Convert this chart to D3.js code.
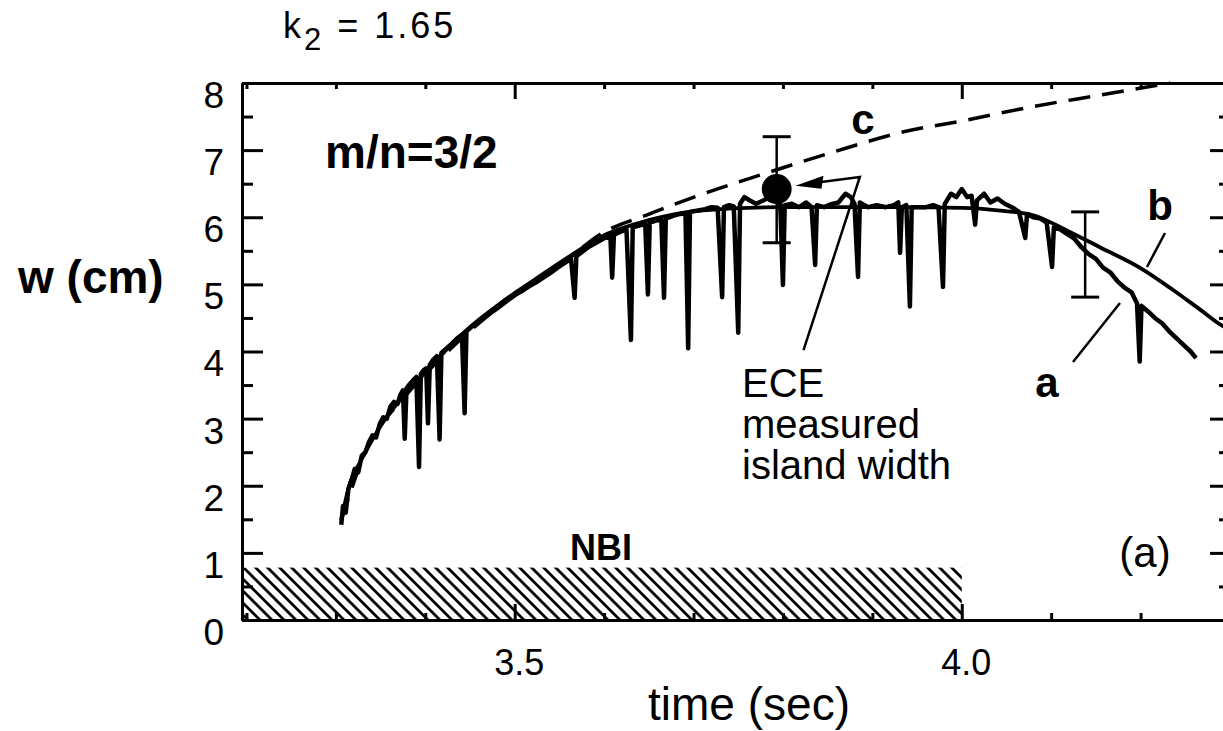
<!DOCTYPE html>
<html><head><meta charset="utf-8">
<script src="https://cdn.jsdelivr.net/npm/d3@7"></script>
<style>
html,body{margin:0;padding:0;background:#fff;}
svg{display:block;}
text{font-family:"Liberation Sans",Arial,Helvetica,sans-serif;fill:#000;}
</style></head>
<body>
<svg id="chart" width="1223" height="731"></svg>
<script>
// ---------------- data ----------------
const xDomain = [3.195, 4.3];
const yDomain = [0, 8];
const xMinorTicks = [3.2,3.3,3.4,3.6,3.7,3.8,3.9,4.1,4.2,4.3];
const xMajorTicks = [3.5, 4.0];
const xTickLabels = ["3.5", "4.0"];
const yMajorTicks = [0,1,2,3,4,5,6,7,8];
const yMinorTicks = [0.5,1.5,2.5,3.5,4.5,5.5,6.5,7.5];
const yTickLabels = ["0","1","2","3","4","5","6","7","8"];

// curve b: smooth model
const curveB = [[3.306,1.49],[3.316,2.05],[3.327,2.35],[3.338,2.62],[3.353,2.95],[3.372,3.28],[3.394,3.60],[3.416,3.92],[3.447,4.33],[3.484,4.72],[3.520,5.05],[3.565,5.45],[3.595,5.70],[3.651,5.96],[3.707,6.10],[3.797,6.15],[3.931,6.15],[4.000,6.14],[4.043,6.10],[4.080,6.03],[4.118,5.80],[4.155,5.55],[4.199,5.25],[4.236,4.92],[4.267,4.62],[4.292,4.38],[4.30,4.33]];

// curve c: dashed model
const curveC = [[3.306,1.49],[3.338,2.65],[3.372,3.25],[3.416,3.88],[3.484,4.68],[3.551,5.28],[3.595,5.74],[3.651,6.05],[3.707,6.33],[3.782,6.66],[3.856,6.97],[3.931,7.26],[4.006,7.45],[4.080,7.65],[4.155,7.82],[4.233,8.0]];

// curve a: ECE measured island width (noisy trace with drops)
const curveA = [[3.306,1.42],[3.308,1.70],[3.311,1.60],[3.314,1.95],[3.318,2.10],[3.321,2.25],[3.325,2.20],[3.329,2.45],[3.333,2.50],[3.337,2.65],[3.341,2.75],[3.345,2.72],[3.349,2.92],[3.353,3.02],[3.357,3.00],[3.361,3.18],[3.365,3.25],[3.369,3.22],[3.372,3.35],[3.375,3.42],
[3.377,2.70],[3.379,3.45],[3.383,3.52],[3.387,3.58],[3.390,3.62],
[3.393,2.28],[3.395,3.66],[3.398,3.72],[3.401,3.75],
[3.403,2.93],[3.405,3.80],[3.409,3.88],[3.413,3.93],
[3.416,2.69],[3.418,3.98],[3.424,4.05],[3.430,4.12],[3.436,4.20],[3.441,4.25],
[3.444,3.08],[3.446,4.30],[3.452,4.37],[3.460,4.45],[3.468,4.53],[3.476,4.60],[3.484,4.68],[3.492,4.76],[3.500,4.84],[3.508,4.90],[3.516,4.97],[3.524,5.03],[3.532,5.10],[3.540,5.17],[3.548,5.25],[3.556,5.32],[3.563,5.38],
[3.567,4.80],[3.569,5.42],[3.575,5.48],[3.583,5.56],[3.591,5.62],[3.599,5.68],[3.607,5.72],
[3.609,5.10],[3.611,5.74],[3.618,5.78],[3.625,5.82],
[3.630,4.17],[3.632,5.85],[3.640,5.88],[3.646,5.90],
[3.649,4.85],[3.651,5.92],[3.658,5.95],[3.664,5.96],
[3.667,4.80],[3.669,5.98],[3.677,6.02],[3.685,6.05],[3.691,6.06],
[3.694,4.05],[3.696,6.08],[3.705,6.10],[3.713,6.12],[3.720,6.15],[3.727,6.14],
[3.732,4.81],[3.734,6.15],[3.740,6.18],[3.745,6.16],
[3.750,4.28],[3.752,6.20],[3.757,6.30],[3.763,6.25],[3.770,6.20],[3.778,6.25],[3.785,6.30],[3.792,6.25],[3.797,6.20],
[3.800,4.99],[3.802,6.18],[3.810,6.20],[3.818,6.15],[3.826,6.22],[3.832,6.15],
[3.836,5.29],[3.838,6.18],[3.846,6.15],[3.855,6.20],[3.862,6.22],[3.870,6.35],[3.876,6.30],[3.880,6.20],
[3.884,5.11],[3.886,6.22],[3.895,6.15],[3.905,6.18],[3.915,6.15],[3.924,6.18],[3.929,6.22],
[3.931,5.47],[3.933,6.15],[3.938,6.18],
[3.942,4.67],[3.944,6.15],[3.952,6.15],[3.960,6.15],[3.968,6.18],[3.974,6.15],
[3.979,4.96],[3.981,6.20],[3.988,6.35],[3.994,6.30],[4.000,6.42],[4.006,6.30],[4.011,6.32],
[4.015,5.89],[4.017,6.25],[4.025,6.35],[4.032,6.22],[4.040,6.28],[4.048,6.20],[4.056,6.15],[4.064,6.08],
[4.071,5.69],[4.073,6.05],[4.080,6.00],[4.088,5.98],[4.095,5.92],
[4.101,5.26],[4.103,5.85],[4.110,5.82],[4.118,5.75],[4.126,5.68],[4.134,5.55],[4.142,5.45],[4.150,5.38],[4.158,5.25],[4.166,5.18],[4.174,5.05],[4.182,4.95],[4.190,4.88],[4.196,4.72],
[4.199,3.85],[4.201,4.68],[4.208,4.60],[4.216,4.50],[4.224,4.42],[4.232,4.30],[4.240,4.20],[4.248,4.10],[4.256,4.00],[4.262,3.90]];

// error bars: [t, center, low, high]
const errorBars = [[3.793, 6.42, 5.62, 7.20],[4.138, 5.45, 4.81, 6.08]];
const markerPoint = [3.793, 6.42];

// NBI heating interval
const nbiInterval = [3.195, 4.0];
const nbiLevel = 0.78;

// ---------------- drawing ----------------
const svg = d3.select("#chart");
svg.append("rect").attr("width",1223).attr("height",731).attr("fill","#fff");

const x = d3.scaleLinear().domain(xDomain).range([242, 1230]);
const y = d3.scaleLinear().domain(yDomain).range([620, 83]);

// hatch pattern
const defs = svg.append("defs");
const pat = defs.append("pattern").attr("id","hatch").attr("patternUnits","userSpaceOnUse")
  .attr("width",12).attr("height",12);
pat.append("path").attr("d","M-3,-3 L15,15 M-3,9 L3,15 M9,-3 L15,3")
  .attr("stroke","#000").attr("stroke-width",2.8);

svg.append("rect")
  .attr("x", x(nbiInterval[0])).attr("y", y(nbiLevel))
  .attr("width", x(nbiInterval[1]) - x(nbiInterval[0]))
  .attr("height", y(0) - y(nbiLevel))
  .attr("fill","url(#hatch)");

// axes
function styleAxis(g){
  g.select(".domain").attr("stroke","#000").attr("stroke-width",3);
  g.selectAll(".tick line").attr("stroke","#000").attr("stroke-width",3);
}
// bottom
svg.append("g").attr("transform",`translate(0,${y(0)})`)
  .call(d3.axisBottom(x).tickValues(xMinorTicks).tickSizeInner(-7).tickSizeOuter(0).tickFormat(""))
  .call(styleAxis);
const bx = svg.append("g").attr("transform",`translate(0,${y(0)})`)
  .call(d3.axisBottom(x).tickValues(xMajorTicks).tickSizeInner(-16).tickSizeOuter(0)
     .tickPadding(29).tickFormat((d,i)=>xTickLabels[i]))
  .call(styleAxis);
bx.selectAll("text").attr("font-size",36).attr("dx",4).attr("font-family","Liberation Sans, Arial, sans-serif").attr("fill","#000");
// top
svg.append("g").attr("transform",`translate(0,${y(8)})`)
  .call(d3.axisTop(x).tickValues(xMinorTicks).tickSizeInner(-6).tickSizeOuter(0).tickFormat(""))
  .call(styleAxis);
svg.append("g").attr("transform",`translate(0,${y(8)})`)
  .call(d3.axisTop(x).tickValues(xMajorTicks).tickSizeInner(-16).tickSizeOuter(0).tickFormat(""))
  .call(styleAxis);
// left
svg.append("g").attr("transform",`translate(${x(xDomain[0])},0)`)
  .call(d3.axisLeft(y).tickValues(yMinorTicks).tickSizeInner(-11).tickSizeOuter(0).tickFormat(""))
  .call(styleAxis);
const ly = svg.append("g").attr("transform",`translate(${x(xDomain[0])},0)`)
  .call(d3.axisLeft(y).tickValues(yMajorTicks).tickSizeInner(-21).tickSizeOuter(0)
     .tickPadding(18).tickFormat((d,i)=>yTickLabels[i]))
  .call(styleAxis);
ly.selectAll("text").attr("font-size",37).attr("dy","0.66em").attr("font-family","Liberation Sans, Arial, sans-serif").attr("fill","#000");
// right
svg.append("g").attr("transform",`translate(${x(xDomain[1])},0)`)
  .call(d3.axisRight(y).tickValues(yMinorTicks).tickSizeInner(-11).tickSizeOuter(0).tickFormat(""))
  .call(styleAxis);
svg.append("g").attr("transform",`translate(${x(xDomain[1])},0)`)
  .call(d3.axisRight(y).tickValues(yMajorTicks).tickSizeInner(-20).tickSizeOuter(0).tickFormat(""))
  .call(styleAxis);

// curve c dashed
svg.append("path").datum(curveC).attr("d", d3.line().x(d=>x(d[0])).y(d=>y(d[1])).curve(d3.curveMonotoneX))
  .attr("fill","none").attr("stroke","#000").attr("stroke-width",3.5)
  .attr("stroke-dasharray","22,12");
// curve b smooth
svg.append("path").datum(curveB).attr("d", d3.line().x(d=>x(d[0])).y(d=>y(d[1])).curve(d3.curveMonotoneX))
  .attr("fill","none").attr("stroke","#000").attr("stroke-width",3.8);
// curve a noisy
svg.append("path").datum(curveA).attr("d", d3.line().x(d=>x(d[0])).y(d=>y(d[1])))
  .attr("fill","none").attr("stroke","#000").attr("stroke-width",4.5).attr("stroke-linejoin","round");

// error bars
const eb = svg.append("g");
errorBars.forEach(d=>{
  eb.append("line").attr("x1",x(d[0])).attr("x2",x(d[0])).attr("y1",y(d[2])).attr("y2",y(d[3]))
    .attr("stroke","#000").attr("stroke-width",2.5);
  [d[2],d[3]].forEach(v=>eb.append("line").attr("x1",x(d[0])-14).attr("x2",x(d[0])+14)
    .attr("y1",y(v)).attr("y2",y(v)).attr("stroke","#000").attr("stroke-width",3));
});
svg.append("circle").attr("cx",x(markerPoint[0])).attr("cy",y(markerPoint[1])).attr("r",15).attr("fill","#000");

// annotation pointer lines
const vertex = [3.886, 6.60];
const tip = [3.814, 6.47];
const lineEnd = [3.823, 4.02];
svg.append("path").attr("d",`M${x(lineEnd[0])},${y(lineEnd[1])} L${x(vertex[0])},${y(vertex[1])} L${x(tip[0])+20},${y(tip[1])-3}`)
  .attr("fill","none").attr("stroke","#000").attr("stroke-width",2.5);
{
  const tx = x(tip[0]), ty = y(tip[1]);
  svg.append("path").attr("d",`M${tx},${ty} L${tx+28},${ty-10} L${tx+26},${ty+3} Z`).attr("fill","#000");
}
// b pointer
svg.append("line").attr("x1",1165).attr("y1",233).attr("x2",1147).attr("y2",267).attr("stroke","#000").attr("stroke-width",2.5);
// a pointer
svg.append("line").attr("x1",1120).attr("y1",303).attr("x2",1073).attr("y2",362).attr("stroke","#000").attr("stroke-width",2.5);

// texts
function txt(s, px, py, size, weight, anchor){
  return svg.append("text").attr("x",px).attr("y",py).attr("font-size",size)
    .attr("font-weight",weight||"normal").attr("text-anchor",anchor||"start").text(s);
}
const k = svg.append("text").attr("x",283).attr("y",38).attr("font-size",36).attr("letter-spacing",3);
k.append("tspan").text("k");
k.append("tspan").attr("font-size",31).attr("dy",12).text("2");
k.append("tspan").attr("dy",-12).text(" = 1.65");

txt("m/n=3/2", 325, 168, 46, "bold");
txt("c", 863, 134, 42, "bold", "middle");
txt("b", 1160, 220, 42, "bold", "middle");
txt("a", 1047, 397, 42, "bold", "middle");
const ece = svg.append("text").attr("x",742).attr("y",397).attr("font-size",40);
["ECE","measured","island width"].forEach((s,i)=>{
  ece.append("tspan").attr("x",742).attr("dy", i===0 ? 0 : 41).text(s);
});
txt("NBI", 601, 560, 36, "bold", "middle");
txt("(a)", 1145, 567, 42, "normal", "middle");
txt("w (cm)", 18, 293, 46, "bold");
txt("time (sec)", 749, 720, 46, "normal", "middle");
</script>
</body></html>
